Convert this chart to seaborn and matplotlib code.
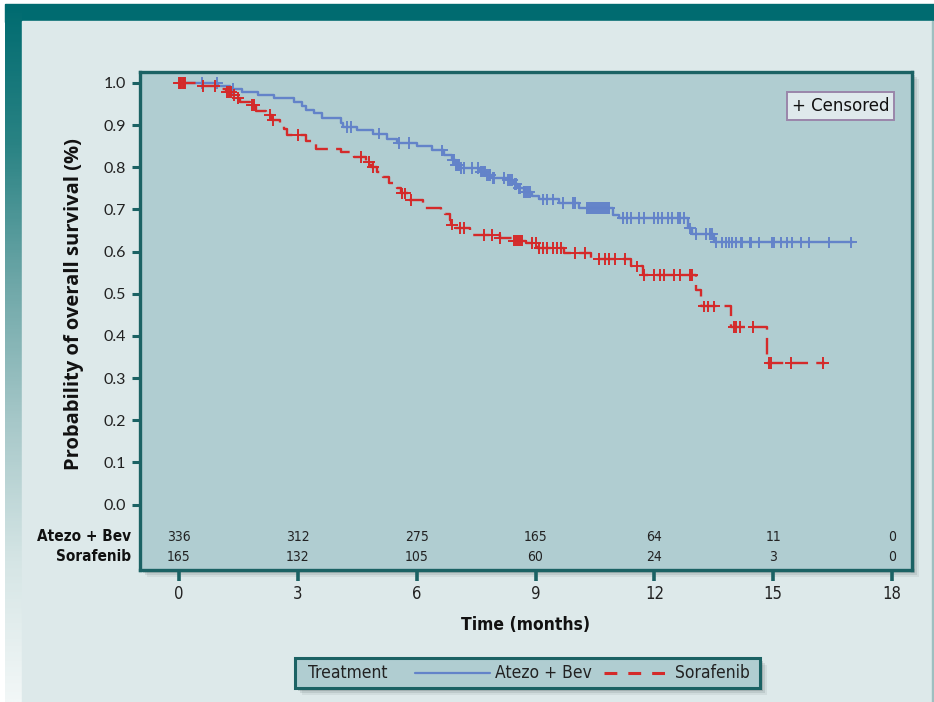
import numpy as np
import pandas as pd
import matplotlib
matplotlib.use("Agg")
import matplotlib.pyplot as plt
import seaborn as sns
from matplotlib.patches import Rectangle
from matplotlib.lines import Line2D
from matplotlib.colors import LinearSegmentedColormap

# ---------------- Data ----------------
arms = ["Atezo + Bev", "Sorafenib"]

# step points: time of event (months) and survival just after it
atezo_t = [0, 1.0, 1.3, 1.6, 2.0, 2.4, 2.9, 3.1, 3.2, 3.4, 3.6, 4.1, 4.15, 4.5, 4.9,
           5.25, 5.5, 6.0, 6.4, 6.7, 6.9, 7.0, 7.1, 7.6, 7.75, 7.9, 8.3, 8.45, 8.55,
           8.7, 8.9, 9.1, 9.6, 10.1, 10.95, 11.1, 12.85, 12.95, 13.5, 17.0]
atezo_s = [1.0, 0.993, 0.986, 0.978, 0.972, 0.964, 0.955, 0.945, 0.936, 0.928, 0.916,
           0.906, 0.896, 0.888, 0.88, 0.868, 0.858, 0.85, 0.84, 0.83, 0.818, 0.806,
           0.798, 0.79, 0.782, 0.775, 0.77, 0.76, 0.75, 0.742, 0.733, 0.724, 0.715,
           0.703, 0.688, 0.68, 0.655, 0.642, 0.622, 0.622]

sora_t = [0, 0.55, 0.95, 1.2, 1.35, 1.45, 1.55, 1.8, 1.95, 2.2, 2.35, 2.55, 2.65, 2.72,
          3.2, 3.45, 4.1, 4.42, 4.72, 4.85, 5.0, 5.15, 5.3, 5.5, 5.6, 5.8, 6.15, 6.62,
          6.72, 6.83, 6.88, 6.95, 7.35, 8.1, 8.45, 8.75, 9.05, 9.72, 10.4, 11.4, 11.72,
          13.05, 13.18, 13.93, 14.85, 16.3]
sora_s = [1.0, 0.993, 0.986, 0.979, 0.972, 0.965, 0.955, 0.948, 0.934, 0.924, 0.912,
          0.9, 0.89, 0.877, 0.863, 0.843, 0.837, 0.825, 0.813, 0.8, 0.79, 0.777, 0.763,
          0.75, 0.738, 0.723, 0.704, 0.697, 0.69, 0.675, 0.664, 0.656, 0.64, 0.633,
          0.626, 0.62, 0.609, 0.597, 0.583, 0.565, 0.545, 0.509, 0.47, 0.421, 0.336,
          0.336]

# censoring times (months)
atezo_cens = [0.58, 0.96, 1.36, 4.25, 4.35, 5.05, 5.55, 5.8, 6.65, 6.92, 6.95, 7.0,
              7.02, 7.05, 7.08, 7.12, 7.2, 7.4, 7.55, 7.62, 7.65, 7.7, 7.72, 7.78, 7.82,
              7.85, 7.92, 7.95, 8.2, 8.3, 8.35, 8.4, 8.47, 8.5, 8.58, 8.6, 8.72, 8.75,
              8.8, 8.85, 9.2, 9.3, 9.45, 9.7, 9.95, 10.0, 10.3, 10.35, 10.4, 10.45,
              10.5, 10.55, 10.6, 10.65, 10.7, 10.75, 10.8, 10.85, 11.2, 11.3, 11.4,
              11.6, 11.75, 12.0, 12.1, 12.2, 12.35, 12.45, 12.6, 12.65, 12.75, 12.9,
              13.05, 13.3, 13.4, 13.45, 13.56, 13.71, 13.81, 13.89, 13.96, 14.07, 14.19,
              14.22, 14.4, 14.45, 14.65, 14.97, 15.02, 15.2, 15.35, 15.48, 15.71, 15.91,
              16.41, 16.96]
sora_cens = [0.0, 0.03, 0.06, 0.1, 0.12, 0.15, 0.6, 0.9, 1.22, 1.27, 1.32, 1.4, 1.5,
             1.85, 1.9, 2.3, 2.38, 3.0, 4.6, 4.8, 4.9, 5.62, 5.7, 5.85, 6.9, 7.1, 7.2,
             7.7, 7.9, 8.1, 8.45, 8.5, 8.55, 8.6, 8.65, 8.9, 9.0, 9.1, 9.2, 9.3, 9.45,
             9.55, 9.65, 10.0, 10.25, 10.6, 10.75, 10.85, 11.0, 11.25, 11.55, 11.75,
             12.0, 12.15, 12.25, 12.5, 12.65, 12.9, 12.93, 12.96, 13.25, 13.35, 13.5,
             14.0, 14.05, 14.15, 14.5, 14.9, 14.95, 15.45, 16.26]

risk_times = [0, 3, 6, 9, 12, 15, 18]
atezo_risk = [336, 312, 275, 165, 64, 11, 0]
sora_risk = [165, 132, 105, 60, 24, 3, 0]

# ---------------- Frames ----------------
curves = pd.concat([
    pd.DataFrame({"time": atezo_t, "surv": atezo_s, "arm": arms[0]}),
    pd.DataFrame({"time": sora_t, "surv": sora_s, "arm": arms[1]}),
], ignore_index=True)


def surv_at(times, st, ss):
    idx = np.searchsorted(st, times, side="right") - 1
    return np.asarray(ss)[idx]


cens = pd.concat([
    pd.DataFrame({"time": atezo_cens, "surv": surv_at(atezo_cens, atezo_t, atezo_s), "arm": arms[0]}),
    pd.DataFrame({"time": sora_cens, "surv": surv_at(sora_cens, sora_t, sora_s), "arm": arms[1]}),
], ignore_index=True)

# ---------------- Style ----------------
sns.set_theme(style="ticks")
plt.rcParams["font.family"] = ["Lato", "DejaVu Sans"]

teal = "#1b6264"
face = "#b0cdd1"
panel = "#dde9ea"
pal = {arms[0]: "#6383c9", arms[1]: "#d42a2a"}
narrow = dict(family="DejaVu Sans", stretch="condensed")

fig = plt.figure(figsize=(9.34, 7.02), dpi=100)
W, H = 934, 702

# background: white, teal header, gradient left strip, light panel
bg = fig.add_axes([0, 0, 1, 1], zorder=-10)
bg.set_xlim(0, W)
bg.set_ylim(H, 0)
bg.axis("off")
bg.add_patch(Rectangle((0, 0), W, H, color="white"))
bg.add_patch(Rectangle((5, 4), W - 5, 18, color="#006b70"))
grad = LinearSegmentedColormap.from_list(
    "g", ["#006b70", "#2a8384", "#6ea7a8", "#a7c8c9", "#d5e5e5", "#f2f7f7"])
bg.imshow(np.linspace(0, 1, 300).reshape(-1, 1), cmap=grad, aspect="auto",
          extent=(5, 22, H, 4), zorder=1)
bg.add_patch(Rectangle((22, 21), W - 24, H - 21, color=panel, zorder=2))
bg.add_patch(Rectangle((W - 2, 21), 2, H - 21, color="#9fbfc0", zorder=2))

# soft drop shadow behind plot box and legend
def shadow(x0, y0, x1, y1):
    for k, a in zip([7, 5, 3], [0.08, 0.12, 0.18]):
        bg.add_patch(Rectangle((x0 + k, y0 + k), x1 - x0, y1 - y0,
                               color="#3a4a4a", alpha=a, lw=0, zorder=3))

shadow(140, 72, 912, 570)
shadow(295, 658, 760, 688)

# ---------------- Main axes ----------------
ax = fig.add_axes([140 / W, 1 - 570 / H, 772 / W, 498 / H])
ax.set_facecolor(face)

sns.lineplot(data=curves, x="time", y="surv", hue="arm", style="arm",
             palette=pal, dashes={arms[0]: "", arms[1]: (7, 3.5)},
             drawstyle="steps-post", estimator=None, sort=False,
             linewidth=1.7, legend=False, ax=ax)
sns.scatterplot(data=cens, x="time", y="surv", hue="arm", palette=pal,
                marker="+", s=70, linewidth=1.4, legend=False, ax=ax, zorder=3)

ax.set_xlim(-0.98, 18.5)
ax.set_ylim(-0.155, 1.026)
ax.set_yticks(np.arange(0, 1.01, 0.1))
ax.set_yticklabels([f"{v:.1f}" for v in np.arange(0, 1.01, 0.1)])
ax.set_xticks(risk_times)
ax.set_xticklabels([str(t) for t in risk_times], fontsize=12, **narrow)

for sp in ax.spines.values():
    sp.set_color(teal)
    sp.set_linewidth(2.4)
ax.tick_params(axis="y", direction="out", length=6, width=2.2, color=teal,
               labelsize=11.5, labelcolor="#222222", pad=4)
ax.tick_params(axis="x", direction="out", length=8, width=2.6, color=teal,
               labelcolor="#222222", pad=3)

ax.set_xlabel("Time (months)", fontsize=12.5, fontweight="bold",
              color="#111111", **narrow)
ax.set_ylabel("Probability of overall survival (%)", fontsize=14.5,
              fontweight="bold", color="#111111", family="Open Sans")
ax.xaxis.set_label_coords(0.5, -0.092)
ax.yaxis.set_label_coords(-0.072, 0.535)

# numbers at risk inside the bottom of the box
for row, (name, vals) in enumerate([(arms[0], atezo_risk), (arms[1], sora_risk)]):
    yy = -0.076 - row * 0.047
    ax.text(-1.2, yy, name, ha="right", va="center", fontsize=11,
            fontweight="bold", color="#111111", clip_on=False, **narrow)
    for t, v in zip(risk_times, vals):
        ax.text(t, yy, str(v), ha="center", va="center", fontsize=10,
                color="#222222", **narrow)

# censored key
ax.text(0.9705, 0.931, "+ Censored", transform=ax.transAxes, ha="right",
        va="center", fontsize=12, color="#111111", family="DejaVu Sans",
        bbox=dict(boxstyle="square,pad=0.3", fc="#dfe9ec", ec="#9a86aa", lw=1.4))

# ---------------- Bottom legend ----------------
bg.add_patch(Rectangle((295, 658), 465, 30, fc=face, ec=teal, lw=2.2, zorder=4))
bg.text(308, 673, "Treatment", ha="left", va="center", fontsize=12.5,
        color="#222222", zorder=5, **narrow)
bg.add_line(Line2D([415, 490], [673, 673], color=pal[arms[0]], lw=1.6, zorder=5))
bg.text(495, 673, "Atezo + Bev", ha="left", va="center", fontsize=12.5,
        color="#222222", zorder=5, **narrow)
bg.add_line(Line2D([604, 668], [673, 673], color=pal[arms[1]], lw=2.2,
                   dashes=(4.2, 3.6), zorder=5))
bg.text(675, 673, "Sorafenib", ha="left", va="center", fontsize=12.5,
        color="#222222", zorder=5, **narrow)

fig.savefig("out.png", dpi=100)
